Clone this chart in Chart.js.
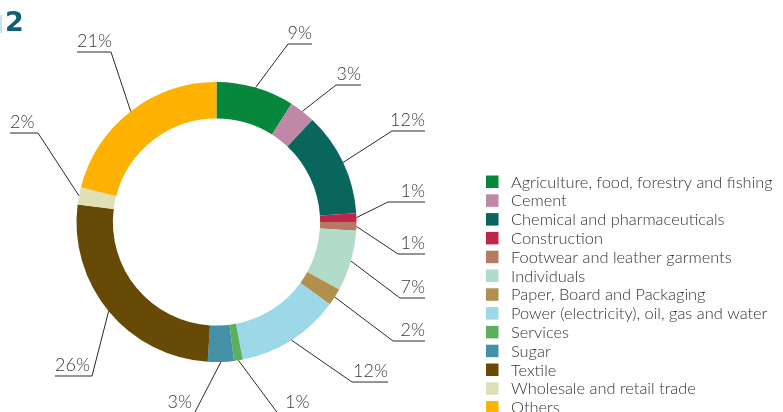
<!DOCTYPE html>
<html>
<head>
<meta charset="utf-8">
<script src="https://cdn.jsdelivr.net/npm/chart.js@4.4.1/dist/chart.umd.min.js"></script>
<style>
html, body { margin:0; padding:0; background:#fff; overflow:hidden; }
#wrap { position:relative; width:783px; height:412px; overflow:hidden; }
#fig { position:absolute; left:5px; top:6px; font:bold 27px "DejaVu Sans", sans-serif; color:#125f75; }
#bar { position:absolute; left:0; top:15px; width:2px; height:18px; background:#c6e2ea; }
</style>
</head>
<body>
<div id="wrap">
  <canvas id="graficoDona" width="783" height="440"></canvas>
  <div id="bar"></div><div id="fig">2</div>
</div>
<script>
// sectores y porcentajes
const sectores = [
    'Agriculture, food, forestry and fishing',
    'Cement',
    'Chemical and pharmaceuticals',
    'Construction',
    'Footwear and leather garments',
    'Individuals',
    'Paper, Board and Packaging',
    'Power (electricity), oil, gas and water',
    'Services',
    'Sugar',
    'Textile',
    'Wholesale and retail trade',
    'Others'
];
const porcentajes = [9, 3, 12, 1, 1, 7, 2, 12, 1, 3, 26, 2, 21];
const colores = [
    '#06873b', '#bf88a6', '#08665c', '#c0254b', '#b57b62', '#b1dcca', '#b28f4d',
    '#9cd8e8', '#5bb15b', '#4490a6', '#664a05', '#e0e0b6', '#fdb100'
];

// posicion de cada etiqueta: codo relativo al centro [dx, dy], largo del subrayado, lado
const llamadas = [
    [71.5, -178, 24, 1],
    [119.5, -137, 25, 1],
    [175.5, -91, 33, 1],
    [171.5, -20, 37, 1],
    [181.5, 32, 27, 1],
    [183.5, 76, 25, 1],
    [176.5, 119, 32, 1],
    [135.5, 160, 36, 1],
    [61, 191, 32, 1],
    [-22, 191, 27, -1],
    [-124.5, 154, 37, -1],
    [-178.5, -89, 28, -1],
    [-105.5, -170, 34, -1]
];

const fuente = '"Lato", "Noto Sans", sans-serif';

const etiquetasDona = {
    id: 'etiquetasDona',
    afterDatasetsDraw(chart) {
        const ctx = chart.ctx;
        const arcos = chart.getDatasetMeta(0).data;
        ctx.save();
        ctx.strokeStyle = '#2a2a2a';
        ctx.lineWidth = 1;
        ctx.fillStyle = '#3a3a3a';
        ctx.font = '300 18px ' + fuente;
        arcos.forEach((arco, i) => {
            const p = arco.getProps(['x', 'y', 'startAngle', 'endAngle', 'outerRadius'], true);
            const medio = (p.startAngle + p.endAngle) / 2;
            const x0 = p.x + Math.cos(medio) * p.outerRadius;
            const y0 = p.y + Math.sin(medio) * p.outerRadius;
            const [dx, dy, largo, lado] = llamadas[i];
            const ex = p.x + dx, ey = p.y + dy;
            const fx = ex + lado * largo;
            ctx.beginPath();
            ctx.moveTo(x0, y0);
            ctx.lineTo(ex, ey);
            ctx.lineTo(fx, ey);
            ctx.stroke();
            ctx.textAlign = lado > 0 ? 'right' : 'left';
            ctx.textBaseline = 'alphabetic';
            ctx.fillText(porcentajes[i] + '%', fx, ey - 5);
        });

        // leyenda
        ctx.font = '300 16.4px ' + fuente;
        ctx.textAlign = 'left';
        sectores.forEach((s, i) => {
            const y = 175.5 + i * 18.8;
            ctx.fillStyle = colores[i];
            ctx.fillRect(486, y, 12.5, 12.5);
            ctx.fillStyle = '#333';
            ctx.fillText(s, 511, y + 12);
        });
        ctx.restore();
    }
};

document.addEventListener('DOMContentLoaded', function(){
    const ctx = document.getElementById('graficoDona').getContext('2d');
    new Chart(ctx, {
        type: 'doughnut',
        data: {
            labels: sectores,
            datasets: [{
                data: porcentajes,
                backgroundColor: colores,
                borderWidth: 0
            }]
        },
        options: {
            responsive: false,
            animation: false,
            cutout: '74%',
            layout: { padding: { left: 76.5, top: 82, right: 426.5, bottom: 78 } },
            plugins: {
                legend: { display: false },
                tooltip: { enabled: false }
            }
        },
        plugins: [etiquetasDona]
    });
});
</script>
</body>
</html>
